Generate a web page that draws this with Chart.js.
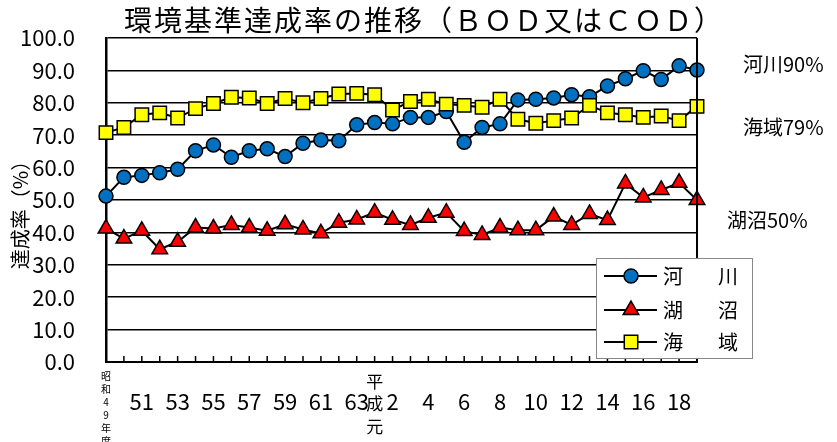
<!DOCTYPE html>
<html>
<head>
<meta charset="utf-8">
<script src="https://cdn.jsdelivr.net/npm/chart.js@4/dist/chart.umd.min.js"></script>
<style>
  html, body { margin: 0; padding: 0; background: #fff; }
  #wrap { width: 837px; height: 442px; }
</style>
</head>
<body>
<div id="wrap"><canvas id="bodChart" width="837" height="442"></canvas></div>
<script>
// fiscal years 昭和49 .. 平成19
var years = ['S49','S50','S51','S52','S53','S54','S55','S56','S57','S58','S59','S60','S61','S62','S63',
             'H1','H2','H3','H4','H5','H6','H7','H8','H9','H10','H11','H12','H13','H14','H15','H16','H17','H18','H19'];

// what is printed under each year ('' = no label)
var tickLabels = [['昭','和','4','9','年','度'], '', '51', '', '53', '', '55', '', '57', '', '59', '', '61', '', '63',
                  ['平','成','元'], '2', '', '4', '', '6', '', '8', '', '10', '', '12', '', '14', '', '16', '', '18', ''];

var riverData = [51.2, 57.0, 57.6, 58.4, 59.5, 65.2, 67.0, 63.2, 65.2, 65.8, 63.4, 67.5, 68.5, 68.3, 73.2,
                 73.9, 73.5, 75.5, 75.5, 77.3, 67.8, 72.4, 73.5, 80.9, 81.1, 81.5, 82.5, 81.9, 85.2, 87.4, 89.9, 87.2, 91.4, 90.1];
var lakeData  = [41.2, 38.1, 40.5, 34.8, 37.1, 41.5, 41.2, 42.3, 41.5, 40.5, 42.5, 40.9, 39.7, 43.0, 44.0,
                 46.1, 43.9, 42.3, 44.5, 46.1, 40.4, 39.2, 41.5, 40.7, 40.7, 44.9, 42.3, 45.7, 43.8, 55.1, 50.8, 53.1, 55.3, 50.0];
var seaData   = [70.8, 72.4, 76.3, 76.9, 75.3, 78.2, 79.8, 81.7, 81.5, 79.8, 81.3, 80.0, 81.3, 82.7, 82.9,
                 82.5, 77.8, 80.4, 81.1, 79.6, 79.2, 78.6, 81.1, 74.9, 73.7, 74.5, 75.3, 79.2, 76.9, 76.3, 75.5, 75.9, 74.5, 78.9];

var seriesNames = ['河川', '湖沼', '海域'];
var latestLabels = ['河川90%', '海域79%', '湖沼50%'];

var FONT = "'Noto Sans CJK JP', 'Noto Sans', sans-serif";

// extra text, the frame, inner tick marks and the boxed legend
var decorPlugin = {
    id: 'decor',
    afterDraw: function(chart) {
        var ctx = chart.ctx;
        var area = chart.chartArea;
        var xs = chart.scales.x;

        ctx.save();
        // right frame line
        ctx.strokeStyle = '#000';
        ctx.lineWidth = 2;
        ctx.beginPath();
        ctx.moveTo(area.right, area.top);
        ctx.lineTo(area.right, area.bottom);
        ctx.stroke();

        // tick marks pointing up from the category axis
        ctx.lineWidth = 1.5;
        ctx.beginPath();
        for (var i = 0; i < years.length; i++) {
            var px = xs.getPixelForTick(i);
            ctx.moveTo(px, area.bottom);
            ctx.lineTo(px, area.bottom - 6);
        }
        ctx.stroke();

        ctx.fillStyle = '#000';
        // title
        ctx.font = '28px ' + FONT;
        ctx.textAlign = 'center';
        ctx.textBaseline = 'middle';
        if ('letterSpacing' in ctx) ctx.letterSpacing = '2px';
        ctx.fillText('環境基準達成率の推移（ＢＯＤ又はＣＯＤ）', 424, 20);
        if ('letterSpacing' in ctx) ctx.letterSpacing = '0px';

        // y axis title
        ctx.save();
        ctx.translate(20, 210);
        ctx.rotate(-Math.PI / 2);
        ctx.font = '20px ' + FONT;
        ctx.fillText('達成率（%）', 0, 0);
        ctx.restore();

        // latest values at the right
        ctx.font = '20px ' + FONT;
        ctx.textAlign = 'left';
        ctx.fillText(latestLabels[0], 743, 64);
        ctx.fillText(latestLabels[1], 743, 127);
        ctx.fillText(latestLabels[2], 727, 220);

        // legend box
        ctx.fillStyle = '#fff';
        ctx.fillRect(596, 258, 156, 100);
        ctx.strokeStyle = '#888';
        ctx.lineWidth = 1;
        ctx.strokeRect(596.5, 258.5, 156, 100);

        var rows = [276, 310, 342];
        chart.data.datasets.forEach(function(ds, k) {
            var y = rows[k];
            ctx.strokeStyle = '#000';
            ctx.lineWidth = 2;
            ctx.beginPath();
            ctx.moveTo(604, y);
            ctx.lineTo(657, y);
            ctx.stroke();
            ctx.fillStyle = ds.pointBackgroundColor;
            ctx.strokeStyle = '#000';
            ctx.lineWidth = ds.pointBorderWidth;
            Chart.helpers.drawPoint(ctx, {
                pointStyle: ds.pointStyle,
                radius: ds.pointRadius,
                rotation: 0,
                borderWidth: ds.pointBorderWidth
            }, 631, y);
            ctx.fillStyle = '#000';
            ctx.font = '20px ' + FONT;
            ctx.textAlign = 'left';
            ctx.textBaseline = 'middle';
            ctx.fillText(ds.label.charAt(0), 663, y);
            ctx.fillText(ds.label.charAt(1), 718, y);
        });
        ctx.restore();
    }
};

new Chart(document.getElementById('bodChart'), {
    type: 'line',
    data: {
        labels: years,
        datasets: [{
            label: seriesNames[0],
            data: riverData,
            borderColor: '#000',
            borderWidth: 2,
            pointStyle: 'circle',
            pointRadius: 7,
            pointBackgroundColor: '#0070C0',
            pointBorderColor: '#000',
            pointBorderWidth: 1.5,
            order: 2
        }, {
            label: seriesNames[1],
            data: lakeData,
            borderColor: '#000',
            borderWidth: 2,
            pointStyle: 'triangle',
            pointRadius: 9,
            pointBackgroundColor: '#FF0000',
            pointBorderColor: '#000',
            pointBorderWidth: 1.5,
            order: 1
        }, {
            label: seriesNames[2],
            data: seaData,
            borderColor: '#000',
            borderWidth: 2,
            pointStyle: 'rect',
            pointRadius: 9.5,
            pointBackgroundColor: '#FFFF00',
            pointBorderColor: '#000',
            pointBorderWidth: 1.5,
            order: 0
        }]
    },
    options: {
        responsive: false,
        animation: false,
        events: [],
        layout: {
            padding: { top: 38, right: 140, left: 0, bottom: 0 }
        },
        plugins: {
            legend: { display: false },
            title: { display: false },
            tooltip: { enabled: false }
        },
        scales: {
            x: {
                offset: false,
                grid: { display: false },
                border: { display: true, color: '#000', width: 2 },
                afterFit: function(scale) { scale.height = 80; },
                ticks: {
                    autoSkip: false,
                    maxRotation: 0,
                    minRotation: 0,
                    crossAlign: 'center',
                    padding: 6,
                    color: '#000',
                    callback: function(value, index) { return tickLabels[index]; },
                    font: function(c) {
                        if (c.index === 0) return { family: FONT, size: 10, lineHeight: 1.3 };
                        if (c.index === 15) return { family: FONT, size: 17, lineHeight: 1.3 };
                        return { family: FONT, size: 22 };
                    }
                }
            },
            y: {
                min: 0,
                max: 100,
                afterFit: function(scale) { scale.width = 106; },
                grid: { color: '#000', lineWidth: 1.5, drawTicks: true, tickLength: 25, tickColor: 'rgba(0,0,0,0)' },
                border: { display: true, color: '#000', width: 2.5 },
                ticks: {
                    stepSize: 10,
                    padding: 6,
                    color: '#000',
                    font: { family: FONT, size: 22 },
                    callback: function(value) { return value.toFixed(1); }
                }
            }
        }
    },
    plugins: [decorPlugin]
});
</script>
</body>
</html>
